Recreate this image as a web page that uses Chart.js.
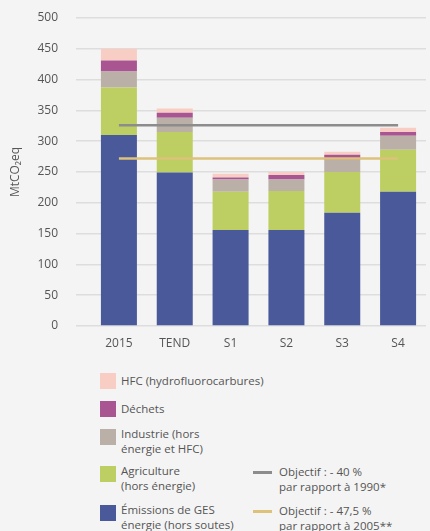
<!DOCTYPE html>
<html lang="fr">
<head>
<meta charset="utf-8">
<script src="https://cdn.jsdelivr.net/npm/chart.js@4/dist/chart.umd.min.js"></script>
<style>
    html, body { margin: 0; padding: 0; background: #f4f4f4; }
    body { width: 430px; height: 531px; position: relative; overflow: hidden; font-family: "Open Sans", sans-serif; color: #555; }
    #chartBox { position: absolute; left: 0; top: 0; width: 430px; height: 360px; }
    .legend-item { position: absolute; font-size: 11.5px; line-height: 14.5px; white-space: pre-line; }
    .legend-item .swatch { position: absolute; left: 0; top: 0; width: 16px; height: 16px; }
    .legend-item .dash { position: absolute; left: 0; top: 5px; width: 19px; height: 3px; }
    .legend-item .text { position: absolute; left: 21px; top: 1px; width: 160px; }
    .legend-item.multi .text { top: -2px; }
    .legend-item.target .text { left: 26px; top: -1px; }
</style>
</head>
<body>
<div id="chartBox"><canvas id="emissionsChart"></canvas></div>
<div id="legend"></div>
<script>
// categories
const scenarios = ['2015', 'TEND', 'S1', 'S2', 'S3', 'S4'];

// stacked series (MtCO2eq), bottom to top
const energie = [310, 249, 156, 156, 184, 218];
const agriculture = [77, 66, 62, 63, 66, 68];
const industrie = [26, 23, 20, 19, 20, 23];
const dechets = [18, 8, 3, 7, 8, 6];
const hfc = [19, 7, 6, 5, 5, 7];

// objectives (horizontal lines)
const objectif1990 = [326, 326, 326, 326, 326, 326];
const objectif2005 = [272, 272, 272, 272, 272, 272];

const yTicks = [0, 50, 100, 150, 200, 250, 300, 350, 400, 450, 500];

const textColor = '#555555';
const fontFamily = '"Open Sans", sans-serif';

const barSeries = [
    { label: 'Émissions de GES\nénergie (hors soutes)', data: energie, color: '#4a5999' },
    { label: 'Agriculture\n(hors énergie)', data: agriculture, color: '#bdcf62' },
    { label: 'Industrie (hors\nénergie et HFC)', data: industrie, color: '#bab0a7' },
    { label: 'Déchets', data: dechets, color: '#a95592' },
    { label: 'HFC (hydrofluorocarbures)', data: hfc, color: '#f8cdc3' }
];

const lineSeries = [
    { label: 'Objectif : - 40 %\npar rapport à 1990*', data: objectif1990, color: '#8c8c8c' },
    { label: 'Objectif : - 47,5 %\npar rapport à 2005**', data: objectif2005, color: '#dcc27a' }
];

document.addEventListener('DOMContentLoaded', function() {
    buildChart();
    buildLegend();
});

function buildChart() {
    const ctx = document.getElementById('emissionsChart').getContext('2d');

    const datasets = barSeries.map(s => ({
        type: 'bar',
        label: s.label,
        data: s.data,
        backgroundColor: s.color,
        borderWidth: 0,
        stack: 'emissions',
        order: 1,
        barPercentage: 0.645,
        categoryPercentage: 1
    }));

    lineSeries.forEach((s, i) => {
        datasets.push({
            type: 'line',
            label: s.label,
            data: s.data,
            borderColor: s.color,
            borderWidth: 2.5,
            pointRadius: 0,
            fill: false,
            stack: 'objectif' + i,
            order: 0
        });
    });

    new Chart(ctx, {
        data: { labels: scenarios, datasets: datasets },
        options: {
            responsive: true,
            maintainAspectRatio: false,
            animation: false,
            layout: { padding: { top: 0, right: 4, left: 0, bottom: 0 } },
            plugins: {
                legend: { display: false },
                tooltip: { enabled: false }
            },
            scales: {
                x: {
                    stacked: true,
                    grid: { display: false },
                    border: { display: false },
                    ticks: {
                        color: textColor,
                        padding: 2,
                        font: { family: fontFamily, size: 12 }
                    },
                    afterFit: scale => { scale.height = 34; }
                },
                y: {
                    stacked: true,
                    min: 0,
                    max: 500,
                    afterBuildTicks: scale => { scale.ticks = yTicks.map(v => ({ value: v })); },
                    grid: {
                        color: '#dddddd',
                        lineWidth: 1.5,
                        tickLength: 15,
                        tickColor: '#dddddd'
                    },
                    border: { display: false },
                    ticks: {
                        color: textColor,
                        padding: 18,
                        font: { family: fontFamily, size: 12 }
                    },
                    title: {
                        display: true,
                        text: 'MtCO₂eq',
                        color: textColor,
                        padding: { top: 8, bottom: 0 },
                        font: { family: fontFamily, size: 12 }
                    },
                    // fixed axis box so the plot area matches the original
                    afterFit: scale => {
                        scale.width = 91;
                        scale.paddingTop = 18;
                        scale.paddingBottom = 0;
                    }
                }
            }
        }
    });
}

function buildLegend() {
    const legend = document.getElementById('legend');

    // left column: bars, top to bottom = HFC ... énergie
    const barTops = [373, 401, 429, 466, 505];
    barSeries.slice().reverse().forEach((s, i) => {
        const item = document.createElement('div');
        item.className = 'legend-item' + (s.label.includes('\n') ? ' multi' : '');
        item.style.left = '100px';
        item.style.top = barTops[i] + 'px';
        item.innerHTML = `<span class="swatch" style="background:${s.color}"></span><span class="text">${s.label}</span>`;
        legend.appendChild(item);
    });

    // right column: objective lines
    const lineTops = [466, 505];
    lineSeries.forEach((s, i) => {
        const item = document.createElement('div');
        item.className = 'legend-item target';
        item.style.left = '253px';
        item.style.top = lineTops[i] + 'px';
        item.innerHTML = `<span class="dash" style="background:${s.color}"></span><span class="text">${s.label}</span>`;
        legend.appendChild(item);
    });
}
</script>
</body>
</html>
